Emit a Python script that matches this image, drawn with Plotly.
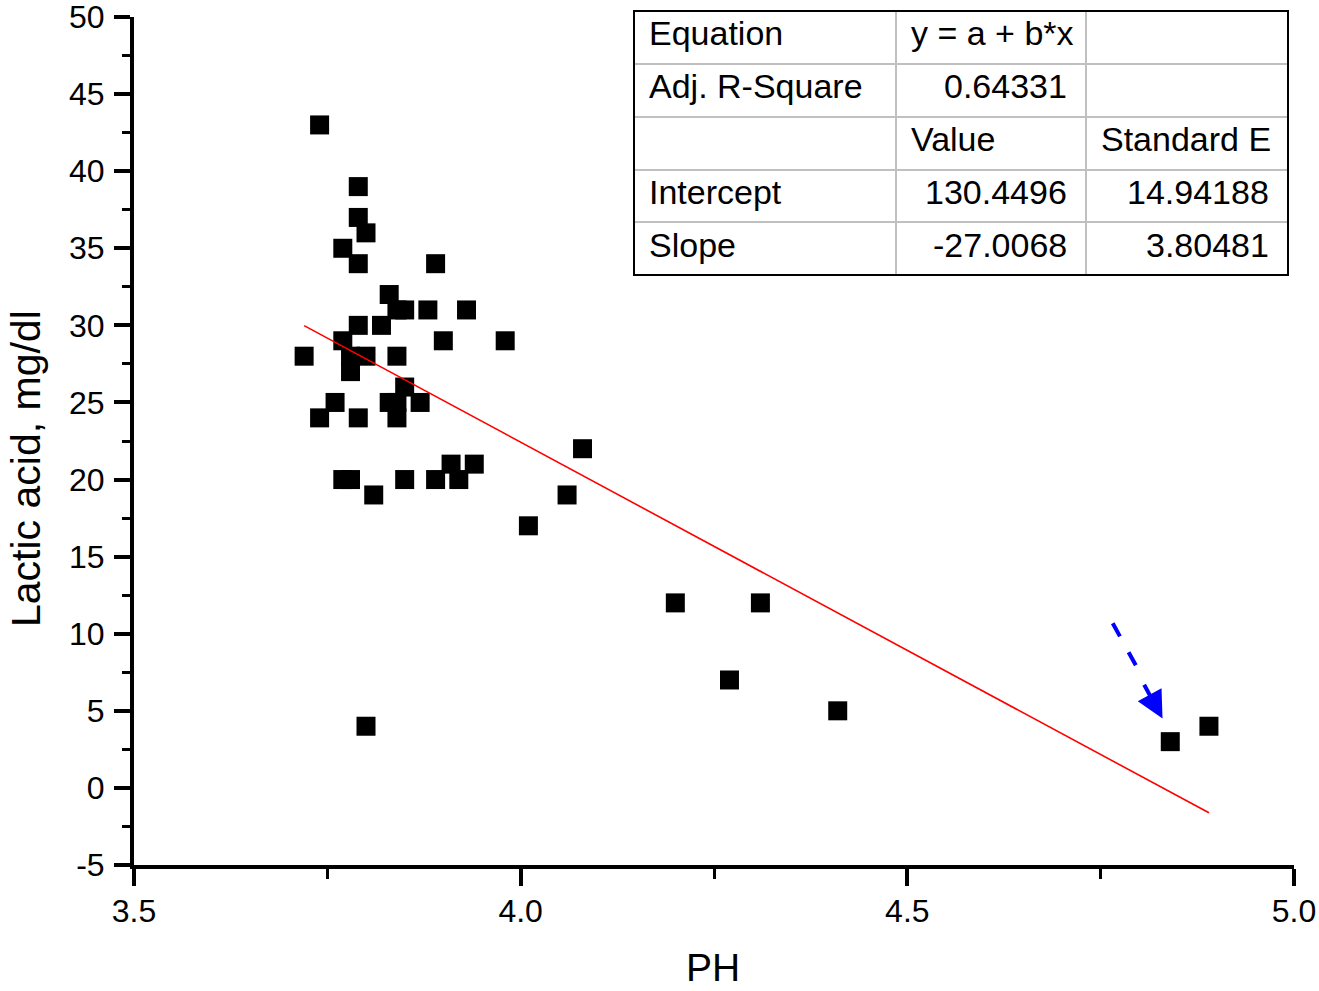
import plotly.graph_objects as go

# ---------------- data ----------------
ph = [3.74, 3.79, 3.79, 3.80, 3.77, 3.79, 3.89, 3.83, 3.84, 3.85, 3.88, 3.93,
      3.79, 3.82, 3.77, 3.90, 3.98, 3.72, 3.78, 3.80, 3.84, 3.78, 3.85, 3.76,
      3.83, 3.84, 3.87, 3.74, 3.79, 3.84, 3.91, 3.94, 3.77, 3.78, 3.85, 3.89,
      3.92, 3.81, 4.08, 4.06, 4.01, 4.20, 4.31, 4.27, 4.41, 3.80, 4.84, 4.89]
lactic = [43, 39, 37, 36, 35, 34, 34, 32, 31, 31, 31, 31,
          30, 30, 29, 29, 29, 28, 28, 28, 28, 27, 26, 25,
          25, 25, 25, 24, 24, 24, 21, 21, 20, 20, 20, 20,
          20, 19, 22, 19, 17, 12, 12, 7, 5, 4, 3, 4]

intercept = 130.4496
slope = -27.0068

y_tickvals = [-5, 0, 5, 10, 15, 20, 25, 30, 35, 40, 45, 50]
y_ticktext = ["-5", "0", "5", "10", "15", "20", "25", "30", "35", "40", "45", "50"]
y_minorvals = [-2.5, 2.5, 7.5, 12.5, 17.5, 22.5, 27.5, 32.5, 37.5, 42.5, 47.5]
x_tickvals = [3.5, 4.0, 4.5, 5.0]
x_ticktext = ["3.5", "4.0", "4.5", "5.0"]
x_minorvals = [3.75, 4.25, 4.75]

x_title = "PH"
y_title = "Lactic acid, mg/dl"

table_rows = [
    ["Equation", "y = a + b*x", ""],
    ["Adj. R-Square", "0.64331", ""],
    ["", "Value", "Standard E"],
    ["Intercept", "130.4496", "14.94188"],
    ["Slope", "-27.0068", "3.80481"],
]
table_align = [
    ["l", "l", "l"],
    ["l", "r", "l"],
    ["l", "l", "l"],
    ["l", "r", "r"],
    ["l", "r", "r"],
]

arrow_start = (4.7656, 10.68)
arrow_dash_end = (4.7963, 7.87)
arrow_mid = (4.8052, 6.79)
arrow_tip = (4.8300, 4.50)

# ---------------- layout geometry (pixels) ----------------
W, H = 1319, 991
L, R, T, B = 134, 1294, 17, 865


def px(x):
    return (x - L) / (R - L)


def py(y):
    return (B - y) / (B - T)


col_edges = [634, 896, 1086, 1288]
row_edges = [11, 64, 117, 170, 222, 275]
left_pad = 13
right_pad = 17
text_dy = -4

FONT = "Liberation Sans, Arial, sans-serif"

fig = go.Figure()

fig.add_trace(go.Scatter(
    x=ph, y=lactic, mode="markers",
    marker=dict(symbol="square", size=19, color="black", line=dict(width=0)),
    showlegend=False, hoverinfo="x+y",
))

fit_x = [min(ph), max(ph)]
fit_y = [intercept + slope * v for v in fit_x]
fig.add_trace(go.Scatter(
    x=fit_x, y=fit_y, mode="lines",
    line=dict(color="#ff0000", width=1.6),
    showlegend=False, hoverinfo="skip",
))

shapes = []
annotations = []

# blue dashed arrow
shapes.append(dict(
    type="line", xref="x", yref="y",
    x0=arrow_start[0], y0=arrow_start[1], x1=arrow_dash_end[0], y1=arrow_dash_end[1],
    line=dict(color="#0000ff", width=4, dash="15px,18px"),
))
annotations.append(dict(
    x=arrow_tip[0], y=arrow_tip[1], ax=arrow_mid[0], ay=arrow_mid[1],
    xref="x", yref="y", axref="x", ayref="y",
    text="", showarrow=True, arrowhead=2, arrowsize=1.35, arrowwidth=4,
    arrowcolor="#0000ff", standoff=0, startstandoff=0,
))

# table grid
for xe in col_edges[1:-1]:
    shapes.append(dict(type="line", xref="paper", yref="paper",
                       x0=px(xe), x1=px(xe), y0=py(row_edges[0]), y1=py(row_edges[-1]),
                       line=dict(color="#c0c0c0", width=2)))
for ye in row_edges[1:-1]:
    shapes.append(dict(type="line", xref="paper", yref="paper",
                       x0=px(col_edges[0]), x1=px(col_edges[-1]), y0=py(ye), y1=py(ye),
                       line=dict(color="#c0c0c0", width=2)))
shapes.append(dict(type="rect", xref="paper", yref="paper",
                   x0=px(col_edges[0]), x1=px(col_edges[-1]),
                   y0=py(row_edges[-1]), y1=py(row_edges[0]),
                   line=dict(color="black", width=2), fillcolor="rgba(0,0,0,0)"))

for i, row in enumerate(table_rows):
    yc = (row_edges[i] + row_edges[i + 1]) / 2 + text_dy
    for j, txt in enumerate(row):
        if not txt:
            continue
        if table_align[i][j] == "l":
            xpos = px(col_edges[j] + left_pad)
            xanchor = "left"
        else:
            xpos = px(col_edges[j + 1] - right_pad)
            xanchor = "right"
        annotations.append(dict(
            x=xpos, y=py(yc), xref="paper", yref="paper",
            text=txt, showarrow=False, xanchor=xanchor, yanchor="middle",
            font=dict(family=FONT, size=34, color="black"),
        ))

# axis titles (placed as annotations to match reference positions)
annotations.append(dict(
    x=px(713), y=py(967), xref="paper", yref="paper", text=x_title,
    showarrow=False, xanchor="center", yanchor="middle",
    font=dict(family=FONT, size=39, color="black"),
))
annotations.append(dict(
    x=px(26), y=py(469), xref="paper", yref="paper", text=y_title,
    showarrow=False, xanchor="center", yanchor="middle", textangle=-90,
    font=dict(family=FONT, size=41, color="black"),
))

fig.update_layout(
    width=W, height=H,
    margin=dict(l=L, r=W - R, t=T, b=H - B, autoexpand=False),
    paper_bgcolor="white", plot_bgcolor="white",
    shapes=shapes, annotations=annotations,
    font=dict(family=FONT, color="black"),
)

fig.update_xaxes(
    range=[3.5, 5.0], tickmode="array", tickvals=x_tickvals, ticktext=x_ticktext,
    showline=True, linecolor="black", linewidth=4,
    ticks="outside", ticklen=17, tickwidth=3.5, tickcolor="black",
    minor=dict(ticks="outside", tickmode="array", tickvals=x_minorvals,
               ticklen=10, tickwidth=2.5, tickcolor="black"),
    showgrid=False, zeroline=False,
    tickfont=dict(family=FONT, size=32, color="black"),
    ticklabelstandoff=-2, ticklabeloverflow="allow",
    automargin=False,
)
fig.update_yaxes(
    range=[-5, 50], tickmode="array", tickvals=y_tickvals, ticktext=y_ticktext,
    showline=True, linecolor="black", linewidth=4,
    ticks="outside", ticklen=16, tickwidth=3.5, tickcolor="black",
    minor=dict(ticks="outside", tickmode="array", tickvals=y_minorvals,
               ticklen=8, tickwidth=2.5, tickcolor="black"),
    showgrid=False, zeroline=False,
    tickfont=dict(family=FONT, size=32, color="black"),
    ticklabelstandoff=3, ticklabeloverflow="allow",
    automargin=False,
)

fig.write_html(
    "out.html",
    config={"displayModeBar": False},
    post_script="document.body.style.margin='0';document.body.style.overflow='hidden';",
)
